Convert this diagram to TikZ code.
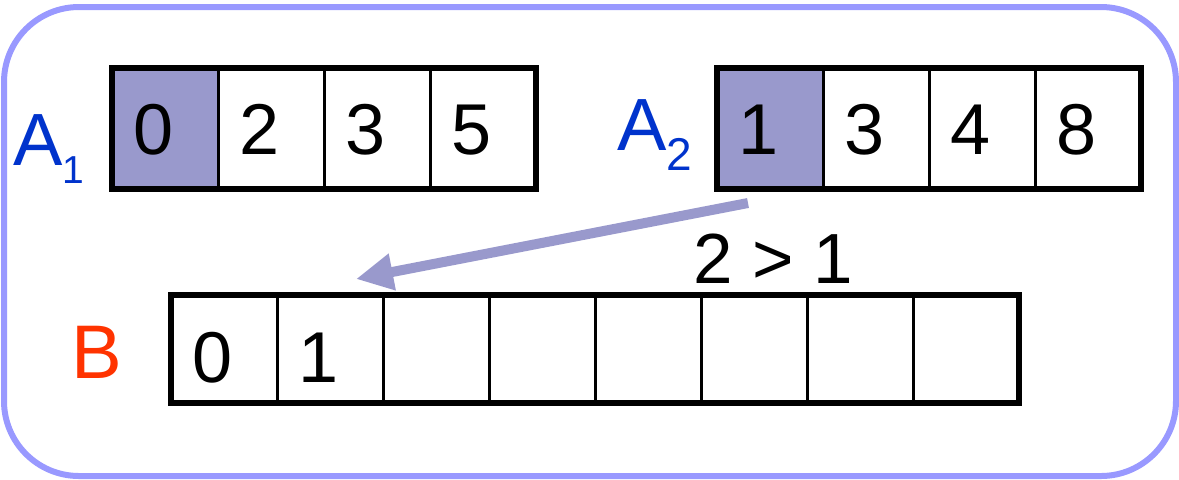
\documentclass[tikz,border=0pt]{standalone}
\usepackage{fontspec}
\setmainfont{Liberation Sans}
\usetikzlibrary{positioning,arrows.meta}
\definecolor{frameblue}{HTML}{9999FF}
\definecolor{headfill}{HTML}{9999CC}
\definecolor{namesblue}{HTML}{0033CC}
\definecolor{namered}{HTML}{FF3300}

\begin{document}
\begin{tikzpicture}[
  x=0.5pt, y=-0.5pt,
  cell/.style={
    draw, line width=1.5pt, outer sep=0pt, inner ysep=0pt, inner xsep=10.75pt,
    text width=31.5pt, align=left, minimum width=53pt, minimum height=60.25pt,
    text height=26pt, text depth=0pt, font=\fontsize{36}{40}\selectfont
  },
  bcell/.style={cell, minimum height=54pt, text height=33.5pt},
  arrname/.style={anchor=base west, inner sep=0pt, font=\fontsize{37}{40}\selectfont},
  arrframe/.style={line width=3pt},
  arr/.style={-{Triangle[length=18.5pt, width=17.5pt]}, line width=5pt, color=headfill}
]
\useasboundingbox (0,0) rectangle (1179,479);
\draw[line width=3pt, draw=frameblue, rounded corners=37.5pt] (4,7) rectangle (1176,476);

% array A1
\node[cell, fill=headfill] (a1-1) at (165,128.25) {0};
\foreach \v [count=\i from 2] in {2,3,5} {
  \pgfmathtruncatemacro\j{\i-1}
  \node[cell, right=0pt of a1-\j] (a1-\i) {\v};
}
\draw[arrframe] (a1-1.north west) rectangle (a1-4.south east);
\node[arrname, text=namesblue] (a1name) at (13,165)
  {A\raisebox{-9pt}{\fontsize{19.5}{20}\selectfont 1}};

% array A2
\node[cell, fill=headfill] (a2-1) at (770,128.25) {1};
\foreach \v [count=\i from 2] in {3,4,8} {
  \pgfmathtruncatemacro\j{\i-1}
  \node[cell, right=0pt of a2-\j] (a2-\i) {\v};
}
\draw[arrframe] (a2-1.north west) rectangle (a2-4.south east);
\node[arrname, text=namesblue] (a2name) at (617,150)
  {A\raisebox{-10pt}{\fontsize{23}{24}\selectfont 2}};

% merged array B
\node[bcell] (b-1) at (224,348.5) {0};
\foreach \v [count=\i from 2] in {1,{},{},{},{},{},{}} {
  \pgfmathtruncatemacro\j{\i-1}
  \node[bcell, right=0pt of b-\j] (b-\i) {\v};
}
\draw[arrframe] (b-1.north west) rectangle (b-8.south east);
\node[arrname, text=namered, font=\fontsize{38}{40}\selectfont] (bname) at (71.5,378) {B};

% comparison
\node[arrname, font=\fontsize{35.5}{40}\selectfont] (cmp) at (693,283) {2 > 1};
\coordinate (from) at ([xshift=-11pt, yshift=-7.25pt]a2-1.south);
\coordinate (to) at ([xshift=13pt, yshift=7.75pt]b-2.north);
\draw[arr] (from) -- (to);
\end{tikzpicture}
\end{document}
